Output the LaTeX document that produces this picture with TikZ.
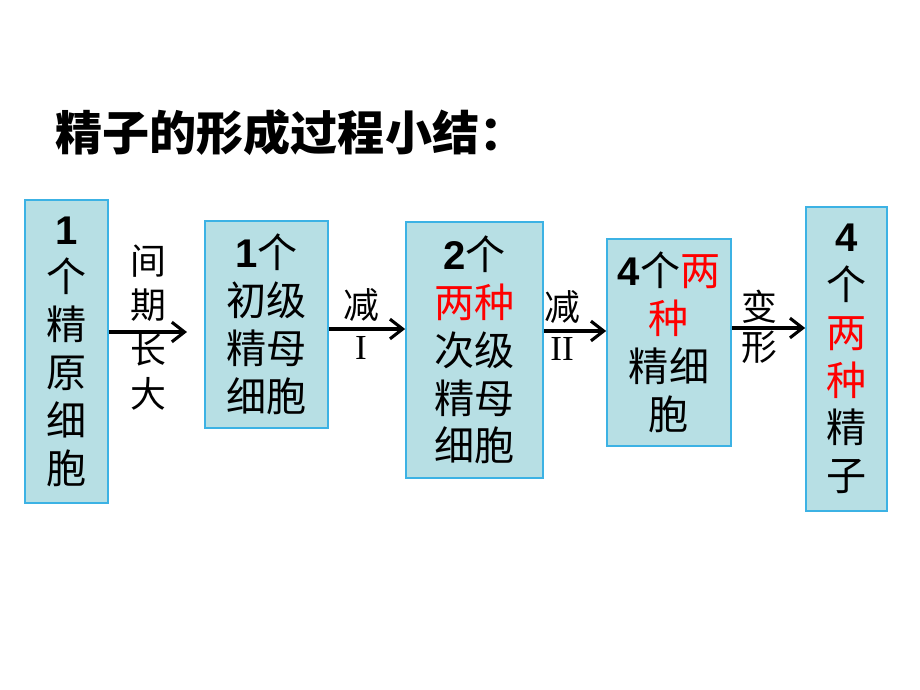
\documentclass[tikz,border=0pt]{standalone}
\usepackage{fontspec}
\setmainfont{Noto Sans CJK SC}
\newfontfamily\numfont{Liberation Sans}
\newfontfamily\romfont{Liberation Serif}
\usetikzlibrary{arrows.meta}
\tikzset{>=Stealth}
\definecolor{cellfill}{RGB}{183,223,228}
\definecolor{cellline}{RGB}{60,178,228}
\tikzset{
  cell/.style={draw=cellline,fill=cellfill,line width=1.2pt,align=center,inner sep=0pt,
    font=\fontsize{28.5pt}{34pt}\selectfont},
  flow/.style={-{Straight Barb[length=9pt,width=14pt]},line width=2.2pt},
  steplabel/.style={align=center,inner sep=0pt,font=\fontsize{25.5pt}{31pt}\selectfont},
  romlabel/.style={inner sep=0pt,font=\romfont\fontsize{25pt}{25pt}\selectfont},
}
\newcommand{\cnt}[1]{{\numfont\bfseries #1}}
\newcommand{\hl}[1]{\textcolor{red}{#1}}

\begin{document}
\begin{tikzpicture}[x=0.025cm,y=-0.025cm]
\useasboundingbox (0,0) rectangle (920,690);
\node[anchor=west,inner sep=0pt,font=\fontsize{33.5pt}{33.5pt}\selectfont\bfseries] (title) at (55,133) {精子的形成过程小结：};
% the five cell boxes
\node[cell,minimum width=2.075cm,minimum height=7.575cm] (b1) at (66.5,351.5) {\cnt{1}\\个\\精\\原\\细\\胞};
\node[cell,minimum width=3.075cm,minimum height=5.175cm] (b2) at (266.5,324.5) {\cnt{1}个\\初级\\精母\\细胞};
\node[cell,minimum width=3.425cm,minimum height=6.4cm] (b3) at (474.5,350) {\cnt{2}个\\\hl{两种}\\次级\\精母\\细胞};
\node[cell,minimum width=3.1cm,minimum height=5.175cm] (b4) at (669,342.5) {\cnt{4}个\hl{两}\\\hl{种}\\精细\\胞};
\node[cell,minimum width=2.025cm,minimum height=7.6cm] (b5) at (846.5,359) {\cnt{4}\\个\\\hl{两}\\\hl{种}\\精\\子};
% arrows
\coordinate (e1) at (187,332);
\draw[flow] (b1.east |- e1) -- (e1);
\draw[flow] (b2.east |- 0,329) -- (b3.west |- 0,329);
\draw[flow] (b3.east |- 0,331) -- (b4.west |- 0,331);
\draw[flow] (b4.east |- 0,328) -- (b5.west |- 0,328);
% labels on the arrows
\node[steplabel] (l1a) at (148,283) {间\\期};
\node[steplabel] (l1b) at (148,372) {长\\大};
\node[steplabel] (l2a) at (361,305) {减};
\node[romlabel] (l2b) at (361,348) {I};
\node[steplabel] (l3a) at (562,307) {减};
\node[romlabel] (l3b) at (562,349) {II};
\node[steplabel] (l4a) at (759,307) {变};
\node[steplabel] (l4b) at (759,347) {形};
\end{tikzpicture}
\end{document}
